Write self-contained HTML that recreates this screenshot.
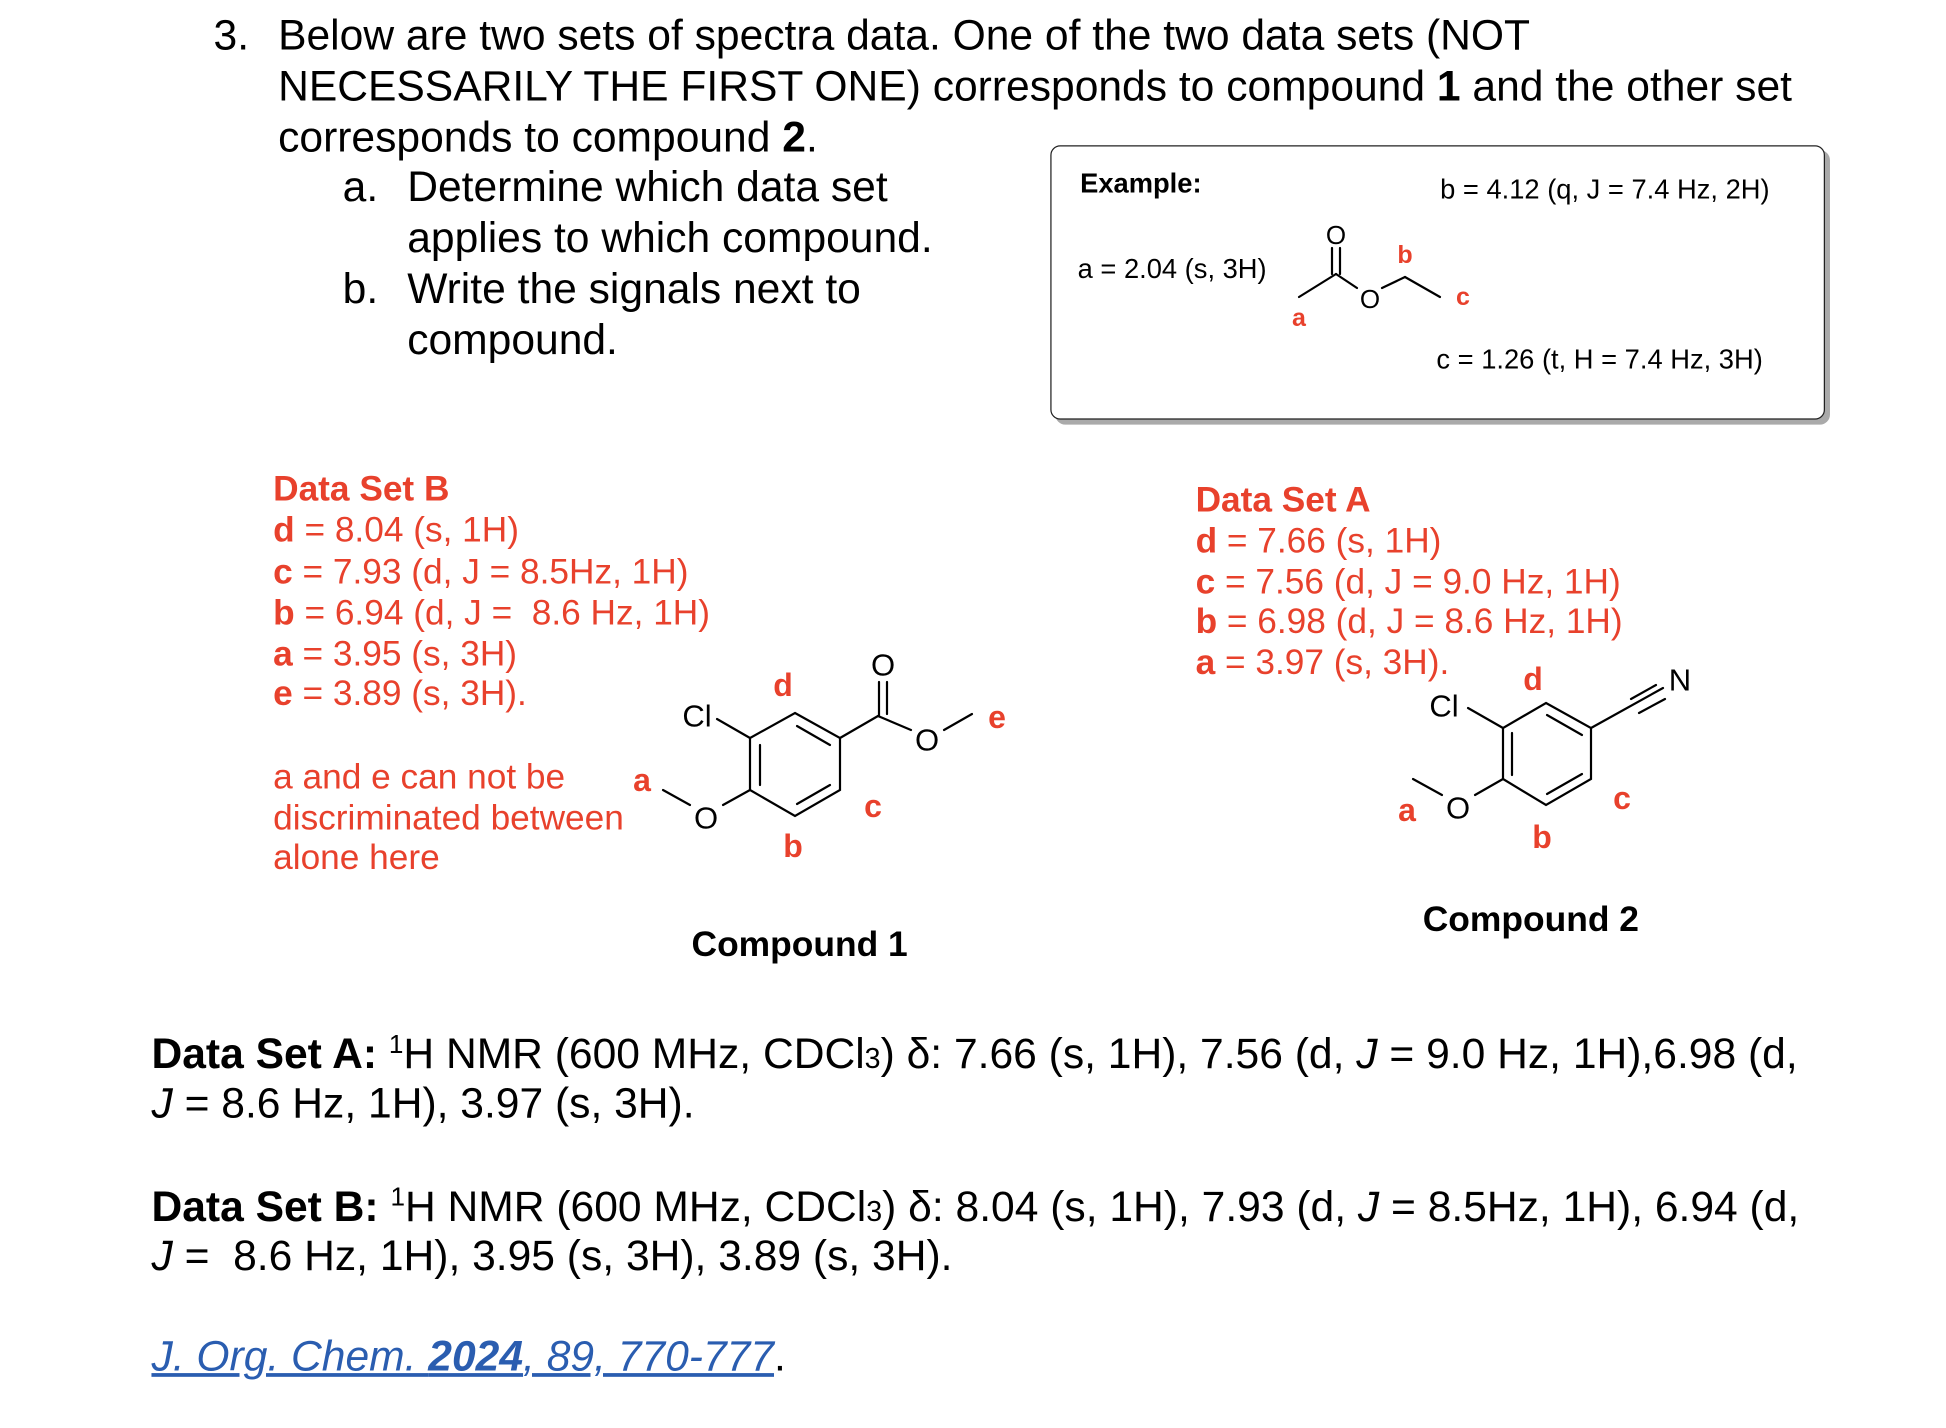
<!DOCTYPE html>
<html><head><meta charset="utf-8"><style>
html,body{margin:0;padding:0;background:#fff;}
body{width:1946px;height:1428px;position:relative;overflow:hidden;font-family:"Liberation Sans",Arial,sans-serif;}
#w{position:absolute;left:0;top:0;width:1552px;height:1150px;transform:scale(1.2415);transform-origin:0 0;}
.t{position:absolute;white-space:nowrap;line-height:1;}
.q{font-size:34.3px;color:#000;}
.r{color:#e8412c;font-size:28.4px;}
.r b{font-weight:bold;}
.box{position:absolute;left:846px;top:117px;width:622px;height:219px;border:1.5px solid #222;border-radius:8px;box-shadow:4px 4px 0 #aaa;background:#fff;}
.e{font-size:22px;}
.bt{font-size:34.3px;}
.cite{color:#2a5db0;text-decoration:underline;font-style:italic;}
</style></head><body>
<div id="w">
<div class="t q" style="left:172px;top:12px">3.</div>
<div class="t q" style="left:224px;top:12px">Below are two sets of spectra data. One of the two data sets (NOT</div>
<div class="t q" style="left:224px;top:53px">NECESSARILY THE FIRST ONE) corresponds to compound <b>1</b> and the other set</div>
<div class="t q" style="left:224px;top:94px">corresponds to compound <b>2</b>.</div>
<div class="t q" style="left:276px;top:134px">a.</div>
<div class="t q" style="left:328px;top:134px">Determine which data set</div>
<div class="t q" style="left:328px;top:175px">applies to which compound.</div>
<div class="t q" style="left:276px;top:216px">b.</div>
<div class="t q" style="left:328px;top:216px">Write the signals next to</div>
<div class="t q" style="left:328px;top:257px">compound.</div>

<div class="box"></div>
<div class="t e" style="left:870px;top:137px;font-weight:bold">Example:</div>
<div class="t e" style="left:1160px;top:142px">b = 4.12 (q, J = 7.4 Hz, 2H)</div>
<div class="t e" style="left:868px;top:206px">a = 2.04 (s, 3H)</div>
<div class="t e" style="left:1157px;top:279px">c = 1.26 (t, H = 7.4 Hz, 3H)</div>

<div class="t r" style="left:220px;top:380px"><b>Data Set B</b></div>
<div class="t r" style="left:220px;top:413px"><b>d</b> = 8.04 (s, 1H)</div>
<div class="t r" style="left:220px;top:447px"><b>c</b> = 7.93 (d, J = 8.5Hz, 1H)</div>
<div class="t r" style="left:220px;top:480px"><b>b</b> = 6.94 (d, J =&nbsp; 8.6 Hz, 1H)</div>
<div class="t r" style="left:220px;top:513px"><b>a</b> = 3.95 (s, 3H)</div>
<div class="t r" style="left:220px;top:545px"><b>e</b> = 3.89 (s, 3H).</div>
<div class="t r" style="left:220px;top:612px">a and e can not be</div>
<div class="t r" style="left:220px;top:645px">discriminated between</div>
<div class="t r" style="left:220px;top:677px">alone here</div>

<div class="t r" style="left:963px;top:389px"><b>Data Set A</b></div>
<div class="t r" style="left:963px;top:422px"><b>d</b> = 7.66 (s, 1H)</div>
<div class="t r" style="left:963px;top:455px"><b>c</b> = 7.56 (d, J = 9.0 Hz, 1H)</div>
<div class="t r" style="left:963px;top:487px"><b>b</b> = 6.98 (d, J = 8.6 Hz, 1H)</div>
<div class="t r" style="left:963px;top:520px"><b>a</b> = 3.97 (s, 3H).</div>

<div class="t" style="left:557px;top:747px;font-size:28.5px;font-weight:bold">Compound 1</div>
<div class="t" style="left:1146px;top:727px;font-size:28.5px;font-weight:bold">Compound 2</div>

<div class="t bt" style="left:122px;top:831px"><b>Data Set A:</b> <sup style="font-size:21px">1</sup>H NMR (600 MHz, CDCl<span style="font-size:23px">3</span>) δ: 7.66 (s, 1H), 7.56 (d, <i>J</i> = 9.0 Hz, 1H),6.98 (d,</div>
<div class="t bt" style="left:122px;top:872px"><i>J</i> = 8.6 Hz, 1H), 3.97 (s, 3H).</div>
<div class="t bt" style="left:122px;top:954px"><b>Data Set B:</b> <sup style="font-size:21px">1</sup>H NMR (600 MHz, CDCl<span style="font-size:23px">3</span>) δ: 8.04 (s, 1H), 7.93 (d, <i>J</i> = 8.5Hz, 1H), 6.94 (d,</div>
<div class="t bt" style="left:122px;top:995px"><i>J</i> =&nbsp; 8.6 Hz, 1H), 3.95 (s, 3H), 3.89 (s, 3H).</div>
<div class="t bt" style="left:122px;top:1076px"><span class="cite">J. Org. Chem. <b>2024</b>, 89, 770-777</span>.</div>
</div>

<svg width="1946" height="1428" style="position:absolute;left:0;top:0" font-family="Liberation Sans, Arial, sans-serif">
<g stroke="#000" stroke-width="2.2" fill="none" stroke-linecap="round">
<g transform="translate(-15,-4)">
<line x1="1314" y1="301" x2="1351" y2="278"/>
<line x1="1347" y1="278" x2="1347" y2="252"/><line x1="1355" y1="278" x2="1355" y2="252"/>
<line x1="1351" y1="278" x2="1372" y2="292"/>
<line x1="1397" y1="292" x2="1420" y2="281"/><line x1="1420" y1="281" x2="1455" y2="301"/>
</g>
<polygon points="795,713 840,738 840,790 795,816 750,790 750,738"/>
<line x1="797" y1="726" x2="830" y2="745"/><line x1="760" y1="745" x2="760" y2="785"/><line x1="830" y1="785" x2="797" y2="804"/>
<line x1="717" y1="719" x2="750" y2="738"/>
<line x1="840" y1="738" x2="878" y2="716"/>
<line x1="879" y1="716" x2="879" y2="682"/><line x1="887" y1="714" x2="887" y2="682"/>
<line x1="878" y1="716" x2="911" y2="730"/>
<line x1="944" y1="730" x2="972" y2="714"/>
<line x1="750" y1="790" x2="723" y2="805"/><line x1="690" y1="805" x2="663" y2="790"/>
<polygon points="1546,703 1591,728 1591,779 1546,805 1503,779 1503,728"/>
<line x1="1547" y1="715" x2="1582" y2="735"/><line x1="1512" y1="733" x2="1512" y2="775"/><line x1="1582" y1="774" x2="1547" y2="794"/>
<line x1="1468" y1="708" x2="1503" y2="728"/>
<line x1="1591" y1="728" x2="1663" y2="688"/>
<line x1="1631" y1="699" x2="1656" y2="685"/><line x1="1639" y1="713" x2="1665" y2="699"/>
<line x1="1503" y1="779" x2="1475" y2="795"/><line x1="1442" y1="795" x2="1413" y2="779"/>
</g>
<g font-size="26" fill="#000" text-anchor="middle" dominant-baseline="central" transform="translate(-15,-4)">
<text x="1351" y="239">O</text><text x="1385" y="303">O</text>
</g>
<g font-size="31" fill="#000" text-anchor="middle" dominant-baseline="central">
<text x="697" y="716">Cl</text><text x="883" y="665">O</text><text x="927" y="740">O</text><text x="706" y="818">O</text>
<text x="1444" y="706">Cl</text><text x="1680" y="680">N</text><text x="1458" y="808">O</text>
</g>
<g font-size="25" font-weight="bold" fill="#e8412c" text-anchor="middle" dominant-baseline="central" transform="translate(-15,-4)">
<text x="1314" y="322">a</text><text x="1420" y="259">b</text><text x="1478" y="301">c</text>
</g>
<g font-size="32" font-weight="bold" fill="#e8412c" text-anchor="middle" dominant-baseline="central">
<text x="783" y="685">d</text><text x="873" y="806">c</text><text x="793" y="846">b</text><text x="642" y="780">a</text><text x="997" y="717">e</text>
<text x="1533" y="679">d</text><text x="1622" y="798">c</text><text x="1542" y="837">b</text><text x="1407" y="810">a</text>
</g>
</svg>
</body></html>
